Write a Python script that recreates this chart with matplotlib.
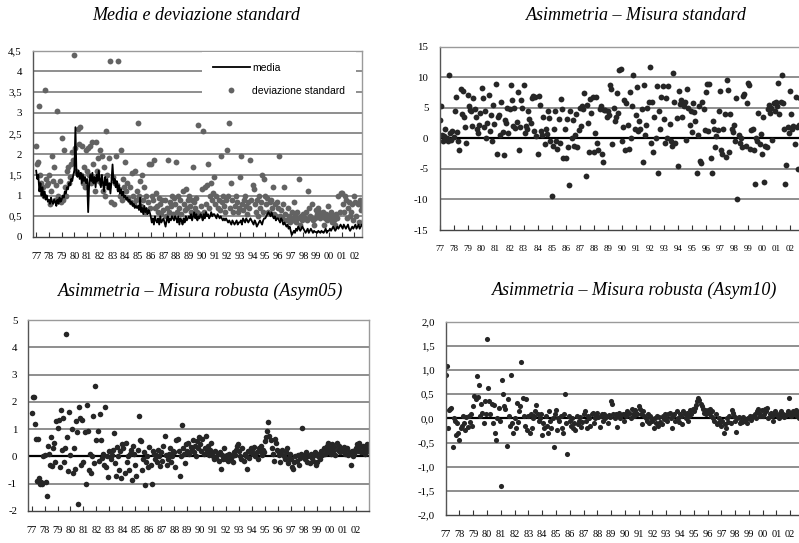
import numpy as np
import matplotlib
matplotlib.use("Agg")
import matplotlib.pyplot as plt
from matplotlib.ticker import FuncFormatter

plt.rcParams["axes.unicode_minus"] = False

# monthly series, Jan 1977 .. Dec 2002 (12 values per row = one year)
media = [
    1.6, 1.4, 1.5, 1.1, 1.3, 1.0, 1.2, 0.95, 1.1, 0.9, 1.0, 0.85,      # 77
    0.9, 0.8, 0.95, 0.85, 0.8, 0.9, 0.85, 0.75, 0.9, 0.8, 0.95, 0.85,  # 78
    0.9, 1.0, 0.95, 1.1, 1.05, 1.2, 1.15, 1.3, 1.25, 1.4, 1.35, 1.5,   # 79
    1.6, 2.65, 1.5, 1.45, 1.6, 1.4, 1.55, 1.3, 1.5, 1.35, 1.45, 1.3,   # 80
    1.4, 0.6, 1.3, 1.5, 1.35, 1.55, 1.3, 1.45, 1.2, 1.5, 1.35, 1.6,    # 81
    1.4, 1.2, 1.5, 1.3, 1.1, 1.45, 1.25, 1.4, 1.15, 1.3, 1.05, 1.35,   # 82
    1.75, 1.3, 1.4, 1.2, 1.35, 1.1, 1.25, 1.05, 1.15, 1.0, 1.1, 0.95,  # 83
    1.0, 0.9, 0.95, 0.85, 0.9, 0.8, 0.85, 0.75, 0.8, 0.7, 0.75, 0.7,   # 84
    0.75, 0.65, 0.95, 0.6, 0.7, 0.55, 0.75, 0.6, 0.7, 0.55, 0.65, 0.6, # 85
    0.5, 0.35, 0.45, 0.3, 0.5, 0.4, 0.35, 0.45, 0.3, 0.5, 0.35, 0.4,   # 86
    0.45, 0.35, 0.25, 0.4, 0.5, 0.35, 0.45, 0.4, 0.5, 0.45, 0.4, 0.5,  # 87
    0.45, 0.35, 0.5, 0.3, 0.45, 0.4, 0.3, 0.45, 0.35, 0.5, 0.4, 0.45,  # 88
    0.5, 0.45, 0.55, 0.4, 0.5, 0.6, 0.45, 0.55, 0.4, 0.5, 0.45, 0.55,  # 89
    0.5, 0.4, 0.55, 0.45, 0.6, 0.5, 0.55, 0.45, 0.5, 0.6, 0.5, 0.55,   # 90
    0.55, 0.5, 0.45, 0.55, 0.5, 0.45, 0.5, 0.45, 0.4, 0.45, 0.4, 0.45, # 91
    0.4, 0.35, 0.4, 0.35, 0.3, 0.4, 0.35, 0.3, 0.35, 0.4, 0.3, 0.35,   # 92
    0.35, 0.4, 0.3, 0.45, 0.4, 0.35, 0.45, 0.4, 0.35, 0.4, 0.45, 0.4,  # 93
    0.35, 0.3, 0.4, 0.35, 0.25, 0.3, 0.35, 0.4, 0.35, 0.3, 0.4, 0.45,  # 94
    0.45, 0.5, 0.55, 0.6, 0.55, 0.5, 0.6, 0.5, 0.45, 0.5, 0.4, 0.45,   # 95
    0.45, 0.4, 0.35, 0.45, 0.4, 0.3, 0.35, 0.3, 0.25, 0.3, 0.2, 0.25,  # 96
    0.15, 0.05, 0.1, 0.15, 0.1, 0.2, 0.15, 0.25, 0.2, 0.15, 0.2, 0.25, # 97
    0.2, 0.15, 0.1, 0.15, 0.2, 0.1, 0.15, 0.2, 0.15, 0.1, 0.15, 0.12,  # 98
    0.12, 0.1, 0.15, 0.12, 0.1, 0.15, 0.12, 0.1, 0.15, 0.2, 0.1, 0.15, # 99
    0.15, 0.2, 0.15, 0.2, 0.25, 0.2, 0.15, 0.2, 0.25, 0.2, 0.25, 0.3,  # 00
    0.25, 0.2, 0.3, 0.25, 0.2, 0.25, 0.3, 0.2, 0.15, 0.2, 0.25, 0.2,   # 01
    0.25, 0.3, 0.2, 0.25, 0.3, 0.2, 0.25, 0.3, 0.25, 0.2, 0.25, 0.2,   # 02
]

dev_std = [
    2.2, 1.75, 1.8, 3.15, 1.5, 1.3, 1.2, 1.0, 3.55, 1.4, 1.25, 1.3,    # 77
    1.5, 0.8, 1.1, 1.95, 1.35, 1.7, 0.9, 1.25, 3.05, 1.0, 1.35, 0.85,  # 78
    2.4, 0.9, 2.1, 1.2, 1.0, 1.6, 1.7, 1.3, 1.45, 1.75, 2.05, 1.85,    # 79
    4.4, 2.15, 1.6, 2.6, 2.25, 2.65, 1.5, 2.2, 1.3, 1.7, 1.2, 2.1,     # 80
    1.6, 2.15, 1.5, 2.2, 1.3, 2.3, 1.75, 1.1, 2.3, 1.6, 1.9, 1.35,     # 81
    2.1, 1.3, 1.95, 1.1, 1.7, 1.0, 2.55, 1.5, 1.2, 1.9, 4.25, 0.85,    # 82
    1.45, 0.8, 1.3, 1.95, 1.25, 4.25, 1.15, 1.0, 2.1, 0.9, 1.4, 1.2,   # 83
    1.8, 1.1, 1.3, 0.95, 1.2, 0.85, 1.55, 1.0, 0.8, 1.6, 0.9, 1.1,     # 84
    2.75, 1.0, 1.35, 0.75, 1.5, 0.9, 1.2, 0.6, 1.0, 0.85, 1.75, 0.7,   # 85
    1.75, 1.0, 0.9, 1.85, 0.7, 1.05, 0.75, 0.6, 0.95, 0.8, 0.55, 0.9,  # 86
    0.65, 0.9, 0.5, 0.7, 1.85, 0.6, 0.85, 0.75, 1.0, 0.55, 0.95, 0.8,  # 87
    1.8, 0.6, 1.0, 0.7, 0.9, 0.55, 1.1, 0.8, 0.65, 1.15, 0.7, 0.9,     # 88
    1.0, 0.75, 0.6, 0.9, 1.7, 0.85, 0.7, 0.95, 0.6, 2.7, 0.55, 0.75,   # 89
    1.15, 2.55, 0.6, 1.2, 0.8, 1.25, 1.75, 0.7, 1.0, 1.3, 0.9, 1.05,   # 90
    1.45, 0.8, 1.0, 0.7, 0.9, 0.65, 1.95, 0.85, 1.0, 0.75, 0.6, 0.9,   # 91
    2.1, 1.0, 2.75, 0.7, 1.3, 0.9, 0.6, 0.75, 1.0, 0.85, 0.6, 0.7,     # 92
    1.45, 1.95, 0.8, 0.65, 0.9, 1.0, 0.75, 0.55, 0.85, 0.7, 1.85, 0.9, # 93
    1.25, 1.15, 0.8, 0.6, 0.9, 0.5, 1.0, 0.7, 0.85, 1.5, 0.6, 1.4,     # 94
    1.0, 0.8, 0.95, 0.6, 0.85, 0.9, 0.7, 1.2, 0.55, 0.8, 0.5, 0.85,    # 95
    0.7, 1.95, 0.5, 0.65, 0.45, 0.8, 1.2, 0.55, 0.4, 0.7, 0.5, 0.35,   # 96
    0.45, 0.6, 0.4, 0.85, 0.5, 0.35, 0.6, 0.45, 1.4, 0.3, 0.5, 0.4,    # 97
    0.55, 0.45, 0.6, 0.4, 1.1, 0.7, 0.5, 0.45, 0.8, 0.4, 0.3, 0.45,    # 98
    0.65, 0.55, 0.7, 0.6, 0.45, 0.5, 0.6, 0.3, 0.45, 0.55, 0.4, 0.75,  # 99
    0.5, 0.45, 0.6, 0.35, 0.5, 0.4, 0.3, 0.55, 0.45, 1.0, 0.6, 1.05,   # 00
    1.05, 0.8, 0.6, 1.0, 0.9, 0.45, 0.7, 0.85, 0.5, 0.6, 0.8, 0.4,     # 01
    1.0, 0.85, 0.5, 0.8, 0.35, 0.9, 0.65, 0.75, 0.85, 0.4, 0.8, 1.1,   # 02
]

asim_std = [
    3.0, 5.3, 0.5, -0.5, 0.3, 1.5, 0.0, -0.5, 10.4, 0.8, -0.3, 1.2,    # 77
    0.2, 4.5, 6.7, 1.0, -0.5, -1.9, 8.1, 4.0, 7.8, 3.5, 1.8, -0.7,     # 78
    7.0, 5.3, 4.6, 4.4, 2.0, 6.5, 4.8, 3.5, 1.5, 0.8, 2.1, 4.2,        # 79
    8.2, 6.6, 1.8, 4.5, 0.0, 2.5, 7.0, 1.2, 3.8, -0.5, 5.5, 2.3,       # 80
    8.9, -2.6, 3.5, 3.8, 0.5, 6.0, 1.0, -2.7, 3.0, 2.5, 5.0, 0.8,      # 81
    4.8, 8.7, 6.2, 2.0, 5.0, 1.7, 2.6, 7.6, -2.0, 1.9, 6.3, 5.0,       # 82
    8.7, 0.8, 2.0, 1.5, 4.5, 3.2, 2.5, 6.5, 6.9, 1.2, 6.8, 0.3,        # 83
    -2.6, 6.9, 5.5, 1.2, 0.5, 3.4, -1.0, 1.5, 0.7, 4.5, 3.3, -0.5,     # 84
    -9.5, -1.3, 1.5, 4.5, -0.5, -1.7, 3.2, -0.8, 6.4, 4.8, -3.2, 1.5,  # 85
    -3.2, 3.2, -1.5, -7.7, 4.5, 0.0, 3.0, -1.2, 0.5, 4.0, -1.5, 1.3,   # 86
    5.0, 2.0, 5.2, 4.8, 7.4, -6.2, 5.5, 2.5, -2.3, 6.4, 4.2, 6.8,      # 87
    -2.2, 0.9, 6.8, -0.7, -2.0, 4.8, 5.3, -2.5, -3.9, 4.7, 4.6, 3.5,   # 88
    4.5, 3.8, 8.7, 8.0, -1.0, 4.9, 2.8, 3.5, 7.4, 4.2, 11.1, 11.3,     # 89
    -0.5, 1.8, 6.3, -2.0, 5.7, 2.2, -1.8, 7.5, 0.0, 5.3, 10.4, 1.5,    # 90
    3.8, 8.4, 1.2, 2.8, 1.5, 4.8, -3.9, 8.7, 0.6, 2.2, 5.0, 6.0,       # 91
    11.6, -0.8, 6.0, -2.2, 3.5, 0.0, 8.6, -5.6, 4.5, 1.5, 6.8, 8.5,    # 92
    3.2, -0.7, 6.5, 0.0, 8.6, 2.3, -0.5, -1.2, 10.7, 6.0, -0.8, 3.3,   # 93
    -4.5, 7.8, 5.6, 6.2, 3.4, 5.2, 6.0, -0.3, 8.0, 5.0, 2.2, 4.5,      # 94
    1.0, 5.7, 4.3, 2.8, -5.7, 0.5, 5.3, -3.7, -4.0, 6.0, 4.8, 1.4,     # 95
    7.5, 8.9, 1.2, 8.9, -3.3, -5.7, 2.9, 1.5, -1.5, 0.3, 1.3, 4.4,     # 96
    7.8, -2.0, -2.5, 1.5, 4.0, -3.0, 9.6, 7.9, -2.2, 3.9, 1.5, 1.0,    # 97
    2.2, -0.5, 6.5, -9.9, 0.5, -0.8, 0.0, -1.5, 6.9, 7.2, -1.2, 5.7,   # 98
    9.0, 8.7, -1.8, 1.3, 1.5, -2.0, -7.4, 0.0, -0.5, 4.2, -1.0, 0.7,   # 99
    -2.5, 3.5, -7.1, -1.3, -1.5, 4.8, 5.5, 4.2, 5.0, -0.3, 5.8, 4.5,   # 00
    6.0, 5.2, 9.0, 4.0, 6.0, 10.4, 5.8, 1.5, -7.5, -4.3, 1.8, 0.8,     # 01
    7.7, 4.0, 1.5, 2.0, -0.9, 6.8, 1.8, -5.0, 2.2, 6.5, 0.0, 3.0,      # 02
]

asym05 = [
    1.6, 2.2, 2.2, 1.2, 0.65, -0.9, 0.65, -0.8, -1.0, -0.95, -1.0, 0.0,    # 77
    0.05, -0.95, -1.45, 0.4, 0.1, -0.3, 0.7, -0.35, 0.3, 0.5, -0.2, 1.3,   # 78
    1.05, 1.35, -0.4, 1.7, 0.25, 1.4, -0.2, 0.3, 4.5, 0.7, -0.55, 1.65,    # 79
    0.05, 1.0, -0.6, 0.3, -0.45, 1.3, 0.9, -1.75, 1.8, 1.4, -0.3, 1.35,    # 80
    -0.2, 0.9, -1.0, 1.9, 0.95, -0.5, 0.1, -0.6, 0.0, 1.5, -0.25, 2.6,     # 81
    0.6, 0.95, -0.15, 1.55, 0.6, -0.05, 0.1, -0.3, 1.8, -0.4, 0.0, -0.75,  # 82
    0.2, -0.1, 0.05, 0.25, 0.85, -0.25, -0.7, 0.35, 0.0, -0.5, 0.2, -0.8,  # 83
    0.45, 0.3, -0.6, 0.5, -0.2, 0.0, -0.5, 0.1, 0.25, -0.85, 0.4, 0.1,     # 84
    -0.3, -0.7, 0.25, 1.5, 0.6, 0.55, -0.5, -0.1, 0.15, -1.05, -0.2, 0.0,  # 85
    -0.4, 0.35, -0.3, -1.0, 0.2, 0.1, -0.1, 0.05, -0.2, 0.25, 0.0, -0.35,  # 86
    0.15, -0.15, 0.4, 0.75, 0.05, -0.3, -0.1, 0.1, 0.3, -0.2, 0.0, 0.2,    # 87
    0.15, -0.4, 0.6, 0.65, 0.2, -0.7, 0.0, 1.15, 0.3, 0.1, -0.25, 0.45,    # 88
    0.2, 0.5, 0.1, 0.35, 0.25, 0.6, 0.15, 0.4, 0.0, 0.55, 0.3, 0.7,        # 89
    0.45, 0.2, 0.65, 0.1, 0.3, 0.75, 0.2, 0.4, 0.05, 0.25, 0.5, 0.15,      # 90
    0.0, -0.1, 0.2, -0.05, 0.1, -0.15, 0.15, -0.45, 0.05, -0.1, 0.3, 0.0,  # 91
    -0.1, 0.05, -0.15, 0.1, -0.05, 0.0, -0.2, 0.15, 0.05, 0.25, 0.4, 0.45, # 92
    0.2, 0.0, -0.1, 0.3, -0.15, 0.1, 0.0, -0.45, 0.2, -0.05, 0.15, 0.3,    # 93
    0.25, 0.1, 0.35, 0.0, 0.15, -0.1, 0.3, 0.2, 0.4, 0.05, 0.25, 0.15,     # 94
    0.55, 0.7, 0.95, 1.25, 0.75, 0.6, 0.3, 0.1, -0.15, 0.65, 0.5, 0.25,    # 95
    0.2, 0.05, -0.2, 0.1, 0.25, 0.0, -0.1, 0.15, 0.3, -0.25, -0.05, 0.1,   # 96
    -0.1, -0.4, -0.45, -0.2, 0.0, -0.15, 0.05, -0.3, -0.05, 0.1, 1.05, 0.0,# 97
    0.05, -0.1, 0.15, -0.2, 0.0, -0.25, 0.1, -0.05, -0.15, 0.05, 0.15, -0.3,  # 98
    -0.2, 0.0, 0.1, -0.1, 0.2, 0.05, 0.3, 0.1, 0.25, 0.4, 0.5, 0.15,       # 99
    0.3, 0.1, 0.45, 0.2, 0.35, 0.05, 0.5, 0.25, 0.4, 0.15, 0.3, 0.2,       # 00
    0.2, 0.35, 0.1, 0.25, 0.3, 0.05, 0.15, -0.3, 0.2, 0.0, 0.1, 0.25,      # 01
    0.3, 0.45, 0.2, 0.5, 0.35, 0.15, 0.4, 0.25, 0.1, 0.3, 0.45, 0.2,       # 02
]

asym10 = [
    0.9, 1.08, -0.19, 0.18, 0.2, 0.22, -0.6, 0.0, -0.05, -0.35, -0.1, -0.3,    # 77
    -0.45, -0.2, -0.15, 0.05, -0.1, -0.25, 0.02, -0.18, 0.05, -0.08, 0.1, -0.15,  # 78
    0.25, 0.47, 0.4, 0.88, 0.45, 0.68, 0.05, 0.3, 0.12, -0.1, 0.35, 0.1,       # 79
    1.65, 0.62, 0.35, 0.1, 0.3, -0.1, 0.28, -0.3, -0.45, 0.0, 0.22, -0.05,     # 80
    -1.4, 0.8, 0.5, 0.25, 0.2, -0.58, 0.4, 0.05, -0.15, 0.9, -0.1, -0.3,       # 81
    0.0, -0.2, 0.32, -0.08, 0.15, 0.25, 1.16, 0.42, 0.05, -0.15, 0.4, -0.25,   # 82
    0.05, -0.3, 0.1, -0.2, 0.0, 0.05, 0.15, 0.28, 0.1, -0.05, 0.0, 0.08,       # 83
    -0.35, -0.1, -0.2, 0.05, -0.15, -0.3, 0.15, -0.05, -0.2, 0.0, -0.6, 0.1,   # 84
    0.18, -0.25, 0.0, -0.05, 0.05, -0.2, -0.3, 0.08, 0.5, -0.1, -0.74, 0.05,   # 85
    -0.05, -0.15, 0.0, -0.2, -0.1, -0.25, 0.05, -0.12, -0.05, 0.02, -0.18, -0.08,  # 86
    0.1, 0.15, -0.05, -0.2, 0.05, 0.0, -0.15, 0.08, 0.12, -0.1, 0.0, 0.05,     # 87
    0.12, 0.02, -0.18, 0.05, 0.08, -0.05, 0.1, 0.0, 0.05, -0.1, 0.07, 0.02,    # 88
    0.35, 0.3, 0.08, 0.0, 0.1, -0.18, 0.05, 0.12, 0.0, 0.06, 0.09, -0.05,      # 89
    0.1, 0.05, 0.15, 0.08, 0.12, 0.0, 0.2, 0.1, 0.05, 0.18, 0.12, 0.08,        # 90
    0.25, 0.2, 0.1, -0.12, 0.15, 0.05, 0.0, -0.05, 0.1, -0.1, 0.05, 0.0,       # 91
    -0.05, -0.2, 0.0, -0.1, 0.05, -0.15, 0.02, -0.08, -0.12, 0.05, -0.02, 0.08,  # 92
    0.0, -0.05, 0.1, 0.12, 0.0, -0.2, 0.05, 0.1, -0.05, 0.15, 0.0, -0.08,      # 93
    0.1, 0.05, -0.12, 0.15, 0.08, 0.0, 0.12, -0.05, 0.05, 0.18, 0.1, 0.2,      # 94
    0.15, 0.22, 0.28, 0.35, 0.42, 0.38, 0.3, 0.25, 0.2, 0.12, 0.18, 0.1,       # 95
    0.18, 0.12, 0.2, 0.05, 0.15, 0.0, -0.05, 0.1, -0.12, -0.1, 0.0, -0.08,     # 96
    -0.15, -0.05, -0.3, -0.12, -0.2, 0.0, -0.08, 0.05, -0.1, 0.18, 0.12, 0.05, # 97
    -0.05, -0.28, 0.0, 0.03, -0.1, -0.05, -0.08, 0.02, -0.06, -0.03, -0.1, 0.0,  # 98
    0.0, 0.05, -0.03, 0.02, 0.05, 0.1, 0.0, 0.15, 0.2, 0.12, 0.05, 0.18,       # 99
    0.05, 0.1, 0.2, 0.15, 0.22, 0.0, 0.08, 0.12, 0.05, -0.05, 0.1, 0.15,       # 00
    0.08, 0.05, 0.0, 0.12, 0.15, 0.05, 0.1, 0.02, 0.06, 0.1, 0.15, 0.42,       # 01
    0.12, 0.05, 0.15, 0.08, 0.1, 0.18, 0.05, 0.12, 0.0, 0.1, 0.15, 0.08,       # 02
]

years = list(range(1977, 2003))
year_labels = ["%02d" % (y % 100) for y in years]
t = 1977 + np.arange(len(media)) / 12.0

W, H = 799, 543
fig = plt.figure(figsize=(W / 100, H / 100), dpi=100)


def px_axes(left, top, right, bottom):
    return fig.add_axes([left / W, 1 - bottom / H, (right - left) / W, (bottom - top) / H])


def comma(fmt):
    return FuncFormatter(lambda v, p: (fmt % v).replace(".", ","))


def style(ax, xlim, ylim, yticks, yfmt, xfs=7.5, zero=True):
    ax.set_xlim(*xlim)
    ax.set_ylim(*ylim)
    ax.set_yticks(yticks)
    ax.yaxis.set_major_formatter(yfmt)
    ax.set_xticks(years)
    ax.set_xticklabels(year_labels)
    ax.tick_params(axis="x", direction="in", length=3.5, width=0.8, color="#333333",
                   labelsize=xfs, pad=11)
    ax.tick_params(axis="y", length=0, labelsize=7.8, pad=8)
    for lab in ax.get_xticklabels() + ax.get_yticklabels():
        lab.set_family("Liberation Serif")
    for y in yticks[1:]:
        ax.axhline(y, color="#707070", lw=1.1, zorder=0.5)
    if zero:
        ax.axhline(0, color="black", lw=1.6, zorder=1)
    ax.spines["left"].set_color("#555555")
    ax.spines["bottom"].set_color("#444444")
    ax.spines["top"].set_color("#9a9a9a")
    ax.spines["right"].set_color("#9a9a9a")
    for s in ax.spines.values():
        s.set_linewidth(1.0)


title_kw = dict(ha="center", va="center", family="Liberation Serif", style="italic", fontsize=13)

# Media e deviazione standard
ax1 = px_axes(33, 50.5, 362, 237)
style(ax1, (1976.75, 2002.6), (0, 4.5), np.arange(0, 4.51, 0.5),
      FuncFormatter(lambda v, p: ("%g" % v).replace(".", ",")), zero=False)
ax1.plot(t, dev_std, "o", ls="none", ms=4.2, color="#636363", mec="none",
         label="deviazione standard", zorder=2)
ax1.plot(t, media, color="black", lw=1.3, label="media", zorder=3)
h, l = ax1.get_legend_handles_labels()
leg = ax1.legend(h[::-1], l[::-1], loc="upper left", bbox_to_anchor=(0.514, 0.99),
                 frameon=True, fancybox=False, facecolor="white", edgecolor="none",
                 framealpha=1, borderaxespad=0, borderpad=1.0, handlelength=3.6,
                 handletextpad=0.2, labelspacing=1.25, numpoints=1,
                 prop={"family": "Liberation Sans", "size": 7.5})
leg.set_zorder(5)
fig.text(196 / W, 1 - 15 / H, "Media e deviazione standard", **title_kw)

# Asimmetria - misura standard
ax2 = px_axes(439.5, 46.5, 804, 230)
style(ax2, (1977, 2003), (-15, 15), np.arange(-15, 16, 5),
      FuncFormatter(lambda v, p: "%d" % v), xfs=6.5)
ax2.plot(t, asim_std, "o", ls="none", ms=4.2, color="#262626", mec="none", zorder=2)
fig.text(636 / W, 1 - 15 / H, "Asimmetria – Misura standard", **title_kw)

# Asym05
ax3 = px_axes(28.3, 320.2, 369, 511)
style(ax3, (1976.75, 2003), (-2, 5), np.arange(-2, 6, 1),
      FuncFormatter(lambda v, p: "%d" % v))
ax3.plot(t, asym05, "o", ls="none", ms=4.0, color="#262626", mec="none", zorder=2)
fig.text(201 / W, 1 - 291.5 / H, "Asimmetria – Misura robusta (Asym05)", **title_kw)

# Asym10
ax4 = px_axes(445.7, 321.7, 804, 515)
style(ax4, (1977, 2003), (-2, 2), np.arange(-2, 2.01, 0.5), comma("%.1f"))
ax4.plot(t, asym10, "o", ls="none", ms=3.7, color="#262626", mec="none", zorder=2)
fig.text(635 / W, 1 - 290.5 / H, "Asimmetria – Misura robusta (Asym10)", **title_kw)

fig.savefig("out.png", dpi=100)
